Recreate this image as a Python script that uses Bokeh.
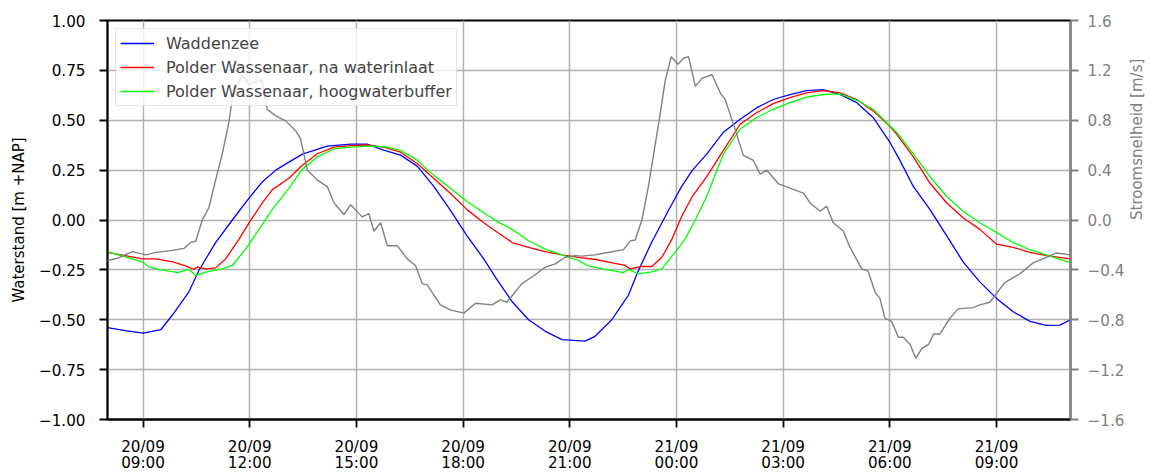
import math
from bokeh.plotting import figure
from bokeh.models import Range1d, LinearAxis, FixedTicker, Legend, LegendItem
from bokeh.embed import file_html
from bokeh.resources import INLINE

# time in hours since 20/09 00:00
x_ticks = [9, 12, 15, 18, 21, 24, 27, 30, 33]
x_tick_dates = ["20/09", "20/09", "20/09", "20/09", "20/09", "21/09", "21/09", "21/09", "21/09"]
x_tick_times = ["09:00", "12:00", "15:00", "18:00", "21:00", "00:00", "03:00", "06:00", "09:00"]
y_ticks = [-1.0, -0.75, -0.5, -0.25, 0.0, 0.25, 0.5, 0.75, 1.0]
y_tick_labels = ["\u22121.00", "\u22120.75", "\u22120.50", "\u22120.25", "0.00", "0.25", "0.50", "0.75", "1.00"]
y2_ticks = [-1.6, -1.2, -0.8, -0.4, 0.0, 0.4, 0.8, 1.2, 1.6]
y2_tick_labels = ["\u22121.6", "\u22121.2", "\u22120.8", "\u22120.4", "0.0", "0.4", "0.8", "1.2", "1.6"]

t_wadden = [8.0, 8.5, 9.0, 9.5, 9.83, 10.29, 10.57, 11.04, 11.51, 11.98, 12.35, 12.73, 13.1, 13.48,
            14.18, 14.84, 15.3, 15.77, 16.24, 16.71, 17.17, 17.64, 18.11, 18.58, 18.92, 19.38, 19.84,
            20.31, 20.78, 21.43, 21.71, 22.18, 22.65, 22.93, 23.3, 23.78, 24.15, 24.45, 24.85, 25.32,
            25.79, 26.26, 26.72, 27.19, 27.66, 28.13, 28.6, 29.07, 29.53, 29.77, 30.0, 30.28, 30.66,
            31.13, 31.6, 32.06, 32.53, 33.0, 33.47, 33.94, 34.4, 34.78, 35.08]
h_wadden = [-0.54, -0.555, -0.567, -0.55, -0.475, -0.36, -0.253, -0.113, 0.0, 0.11, 0.19, 0.25, 0.29, 0.33,
            0.37, 0.38, 0.38, 0.35, 0.325, 0.27, 0.17, 0.05, -0.08, -0.195, -0.29, -0.41, -0.5,
            -0.558, -0.6, -0.607, -0.583, -0.5, -0.376, -0.253, -0.113, 0.05, 0.17, 0.25, 0.33, 0.44,
            0.505, 0.563, 0.604, 0.629, 0.649, 0.654, 0.629, 0.588, 0.514, 0.45, 0.39, 0.3, 0.168,
            0.052, -0.08, -0.21, -0.31, -0.393, -0.46, -0.508, -0.528, -0.527, -0.5]

t_inlaat = [8.0, 8.98, 9.36, 9.83, 10.2, 10.43, 10.53, 10.76, 11.04, 11.32, 11.7, 11.98, 12.35, 12.63,
            13.1, 13.48, 13.9, 14.37, 14.84, 15.3, 15.77, 16.24, 16.71, 17.17, 17.64, 18.11, 18.58,
            18.95, 19.38, 19.84, 20.31, 20.78, 21.25, 21.72, 22.19, 22.56, 22.7, 23.03, 23.31, 23.59,
            23.87, 24.15, 24.45, 24.85, 25.32, 25.79, 26.26, 26.72, 27.19, 27.66, 28.13, 28.6, 29.07,
            29.53, 30.0, 30.19, 30.66, 31.13, 31.6, 32.06, 32.53, 33.0, 33.47, 33.94, 34.4, 35.08]
h_inlaat = [-0.162, -0.195, -0.195, -0.21, -0.23, -0.248, -0.235, -0.245, -0.24, -0.195, -0.096, -0.014,
            0.085, 0.151, 0.209, 0.274, 0.332, 0.365, 0.373, 0.376, 0.365, 0.34, 0.283, 0.209, 0.134,
            0.052, -0.014, -0.06, -0.113, -0.137, -0.159, -0.175, -0.187, -0.198, -0.215, -0.228,
            -0.245, -0.233, -0.233, -0.187, -0.096, 0.019, 0.12, 0.217, 0.349, 0.48, 0.539, 0.583,
            0.613, 0.637, 0.649, 0.637, 0.604, 0.547, 0.47, 0.431, 0.316, 0.184, 0.085, 0.011,
            -0.047, -0.121, -0.137, -0.162, -0.179, -0.195]

t_buffer = [8.0, 8.98, 9.17, 9.45, 9.97, 10.29, 10.48, 10.76, 11.23, 11.51, 11.88, 12.26, 12.63, 13.1,
            13.48, 13.9, 14.37, 14.84, 15.3, 15.77, 16.24, 16.71, 17.17, 17.64, 18.11, 18.58, 18.95,
            19.38, 19.84, 20.31, 20.78, 21.25, 21.53, 22.0, 22.51, 22.65, 22.93, 23.3, 23.59, 23.96,
            24.24, 24.53, 24.85, 25.32, 25.79, 26.26, 26.72, 27.19, 27.66, 28.13, 28.6, 29.07, 29.53,
            30.0, 30.19, 30.66, 31.13, 31.6, 32.06, 32.53, 33.0, 33.47, 33.94, 34.4, 35.08]
h_buffer = [-0.159, -0.21, -0.236, -0.248, -0.264, -0.248, -0.278, -0.261, -0.245, -0.228, -0.146,
            -0.047, 0.052, 0.159, 0.255, 0.316, 0.357, 0.365, 0.37, 0.368, 0.349, 0.3, 0.225, 0.159,
            0.093, 0.036, -0.007, -0.047, -0.104, -0.146, -0.175, -0.203, -0.231, -0.248, -0.264,
            -0.248, -0.27, -0.26, -0.245, -0.162, -0.096, 0.0, 0.118, 0.332, 0.456, 0.514, 0.555,
            0.588, 0.616, 0.629, 0.632, 0.6, 0.555, 0.472, 0.44, 0.332, 0.217, 0.118, 0.044, -0.014,
            -0.063, -0.113, -0.149, -0.175, -0.215]

t_stroom = [8.0, 8.28, 8.7, 9.08, 9.36, 9.83, 10.15, 10.34, 10.48, 10.67, 10.85, 11.04, 11.23, 11.42,
            11.51, 11.79, 11.98, 12.33, 12.49, 12.73, 13.01, 13.29, 13.43, 13.62, 13.9, 14.18, 14.37,
            14.65, 14.84, 15.16, 15.35, 15.49, 15.68, 15.87, 16.15, 16.43, 16.66, 16.85, 16.99, 17.36,
            17.64, 18.02, 18.35, 18.81, 19.05, 19.23, 19.65, 19.94, 20.31, 20.59, 20.87, 21.15, 21.34,
            21.71, 21.99, 22.51, 22.7, 22.84, 23.03, 23.21, 23.36, 23.54, 23.68, 23.85, 24.04, 24.2,
            24.34, 24.53, 24.72, 25.0, 25.23, 25.37, 25.6, 25.88, 26.16, 26.35, 26.54, 26.87, 27.19,
            27.57, 27.76, 28.04, 28.22, 28.41, 28.69, 28.88, 29.21, 29.39, 29.58, 29.72, 29.86, 30.05,
            30.24, 30.38, 30.57, 30.73, 30.9, 31.09, 31.23, 31.41, 31.69, 31.92, 32.34, 32.53, 32.81,
            33.0, 33.23, 33.66, 34.03, 34.4, 34.68, 35.08]
v_stroom = [-0.325, -0.307, -0.254, -0.28, -0.26, -0.244, -0.228, -0.18, -0.17, 0.004, 0.097, 0.32,
            0.532, 0.795, 0.98, 1.165, 1.085, 1.125, 0.888, 0.835, 0.795, 0.716, 0.65, 0.4, 0.32, 0.268,
            0.136, 0.044, 0.123, 0.025, 0.051, -0.088, -0.022, -0.207, -0.207, -0.312, -0.365, -0.51,
            -0.52, -0.681, -0.721, -0.747, -0.668, -0.681, -0.64, -0.66, -0.51, -0.457, -0.378, -0.352,
            -0.299, -0.286, -0.29, -0.28, -0.265, -0.238, -0.167, -0.16, 0.004, 0.268, 0.532, 0.848,
            1.112, 1.31, 1.249, 1.297, 1.31, 1.072, 1.138, 1.165, 1.02, 0.967, 0.769, 0.518, 0.479,
            0.368, 0.4, 0.289, 0.255, 0.215, 0.136, 0.07, 0.11, -0.022, -0.088, -0.22, -0.392, -0.41,
            -0.576, -0.629, -0.787, -0.813, -0.94, -0.94, -0.998, -1.109, -1.03, -0.998, -0.914,
            -0.914, -0.787, -0.713, -0.703, -0.681, -0.66, -0.589, -0.502, -0.431, -0.344, -0.299,
            -0.265, -0.28]

FONT = "DejaVu Sans"

p = figure(width=1158, height=474, output_backend="svg", toolbar_location=None,
           x_range=Range1d(8.0, 35.08), y_range=Range1d(-1.0, 1.0),
           min_border_left=107, min_border_right=88, min_border_top=20, min_border_bottom=50)
p.extra_y_ranges = {"speed": Range1d(-1.6, 1.6)}

p.outline_line_color = "black"
p.outline_line_width = 1.8
p.background_fill_color = "white"
p.border_fill_color = "white"

for g in (p.xgrid[0], p.ygrid[0]):
    g.grid_line_color = "#b0b0b0"
    g.grid_line_width = 1.5

# x axis: date row (with ticks) and a second axis below it for the time row
xa = p.xaxis[0]
xa.ticker = FixedTicker(ticks=x_ticks)
xa.major_label_overrides = dict(zip(x_ticks, x_tick_dates))
xb = LinearAxis(ticker=FixedTicker(ticks=x_ticks))
xb.major_label_overrides = dict(zip(x_ticks, x_tick_times))
p.add_layout(xb, "below")

ya = p.yaxis[0]
ya.ticker = FixedTicker(ticks=y_ticks)
ya.major_label_overrides = dict(zip(y_ticks, y_tick_labels))
ya.axis_label = "Waterstand [m +NAP]"

ra = LinearAxis(y_range_name="speed", ticker=FixedTicker(ticks=y2_ticks),
                axis_label="Stroomsnelheid [m/s]")
ra.major_label_overrides = dict(zip(y2_ticks, y2_tick_labels))
ra.axis_label_orientation = math.pi / 2
p.add_layout(ra, "right")

for ax in (xa, xb, ya, ra):
    ax.major_label_text_font = FONT
    ax.major_label_text_font_size = "15.2px"
    ax.axis_label_text_font = FONT
    ax.axis_label_text_font_size = "15px"
    ax.axis_label_text_font_style = "normal"
    ax.major_tick_out = 8
    ax.major_tick_in = 0
    ax.minor_tick_out = 0
    ax.minor_tick_in = 0
    ax.major_tick_line_width = 1.8
    ax.axis_line_width = 1.8
    ax.major_label_standoff = 9

xa.major_label_standoff = 10
xa.major_label_text_line_height = 0.9
xb.major_label_text_line_height = 0.9
xb.major_tick_out = 0
xb.axis_line_color = None
xb.major_tick_line_color = None
xb.major_label_standoff = -5
ya.major_label_standoff = 14
ya.axis_label_standoff = 8
for ax in (xa, ya):
    ax.major_tick_line_color = "black"
    ax.axis_line_color = "black"
for ax in (xa, xb, ya):
    ax.major_label_text_color = "black"
    ax.axis_label_text_color = "black"
ra.axis_line_color = "#808080"
ra.major_tick_line_color = "#808080"
ra.major_label_text_color = "#808080"
ra.axis_label_text_color = "#808080"
ra.axis_label_standoff = 10

r1 = p.line(t_wadden, h_wadden, line_color="#0000ff", line_width=1.3)
r2 = p.line(t_inlaat, h_inlaat, line_color="#ff0000", line_width=1.3)
r3 = p.line(t_buffer, h_buffer, line_color="#00ff00", line_width=1.3)
r4 = p.line(t_stroom, v_stroom, y_range_name="speed", line_color="#808080", line_width=1.4)
r4.level = "overlay"

legend = Legend(items=[LegendItem(label="Waddenzee", renderers=[r1]),
                       LegendItem(label="Polder Wassenaar, na waterinlaat", renderers=[r2]),
                       LegendItem(label="Polder Wassenaar, hoogwaterbuffer", renderers=[r3])],
                location="top_left")
legend.margin = 8
legend.padding = 4
legend.spacing = 4
legend.label_height = 20
legend.glyph_height = 20
legend.glyph_width = 34
legend.label_standoff = 12
legend.label_text_font = FONT
legend.label_text_font_size = "16px"
legend.border_line_color = "#cccccc"
legend.border_line_width = 1.5
legend.background_fill_color = "white"
legend.background_fill_alpha = 0.8
p.add_layout(legend)

open("out.html", "w").write(file_html(p, INLINE))
